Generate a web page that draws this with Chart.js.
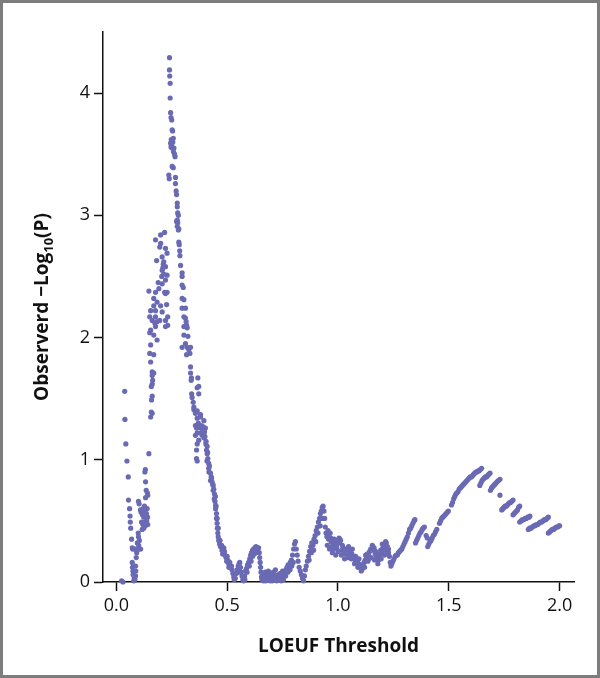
<!DOCTYPE html>
<html>
<head>
<meta charset="utf-8">
<script src="https://cdn.jsdelivr.net/npm/chart.js@4"></script>
<style>
  html, body { margin: 0; padding: 0; background: #fff; }
  #frame { width: 600px; height: 678px; box-sizing: border-box; border: 3px solid #7d7d7d; position: relative; }
  #wrap { width: 594px; height: 672px; }
</style>
</head>
<body>
<div id="frame"><div id="wrap"><canvas id="chart"></canvas></div></div>
<script>
// tick labels
var xTicks = [0, 0.5, 1.0, 1.5, 2.0];
var yTicks = [0, 1, 2, 3, 4];

var earlyX = [0.024,0.030,0.038,0.039,0.043,0.048,0.054,0.055,0.060,0.062,0.063,0.065,0.069,0.072,0.074,0.080,0.086,0.095,0.104,0.110,0.072,0.073,0.075,0.076,0.079,0.081,0.087,0.088,0.087,0.084,0.090,0.092,0.095,0.099,0.100,0.104,0.101];
var earlyY = [0.01,0.00,1.56,1.33,1.13,0.99,0.86,0.67,0.60,0.54,0.49,0.44,0.35,0.28,0.27,0.27,0.27,0.27,0.27,0.27,0.16,0.12,0.09,0.06,0.01,0.03,0.13,0.09,0.05,0.02,0.20,0.24,0.32,0.40,0.37,0.34,0.30];

var riseX = [0.100,0.103,0.109,0.112,0.114,0.117,0.120,0.124,0.124,0.126,0.130,0.130,0.127,0.132,0.135,0.139,0.141,0.142,0.140,0.142,0.132,0.129,0.131,0.147,0.155,0.158,0.162,0.159,0.162,0.158,0.162,0.164,0.162,0.169,0.162,0.155,0.151,0.169,0.155,0.184,0.169,0.118,0.121,0.136,0.137];
var riseY = [0.66,0.64,0.59,0.57,0.49,0.43,0.47,0.44,0.53,0.49,0.46,0.57,0.62,0.69,0.75,0.60,0.53,0.47,0.73,0.71,0.82,0.90,0.92,1.05,1.35,1.39,1.38,1.49,1.52,1.60,1.62,1.65,1.69,1.71,1.72,1.80,1.87,1.86,1.94,1.98,2.02,0.55,0.60,0.56,0.50];

var lobeX = [0.151,0.155,0.177,0.222,0.162,0.184,0.222,0.232,0.232,0.151,0.177,0.155,0.177,0.207,0.169,0.200,0.227,0.184,0.169,0.147,0.177,0.218,0.229,0.222,0.189,0.207,0.222,0.214,0.229,0.207,0.222,0.182,0.214,0.207,0.229,0.222,0.200,0.177,0.200,0.218,0.196,0.212,0.210,0.205,0.192,0.174,0.196];
var lobeY = [2.04,2.06,2.09,2.09,2.14,2.13,2.14,2.10,2.17,2.17,2.17,2.22,2.22,2.21,2.26,2.26,2.27,2.29,2.32,2.38,2.37,2.37,2.37,2.36,2.45,2.44,2.47,2.52,2.51,2.55,2.58,2.63,2.62,2.66,2.69,2.73,2.77,2.80,2.84,2.86,2.74,2.60,2.57,2.50,2.40,2.12,2.14];

var peakX = [0.240,0.240,0.241,0.243,0.243,0.245,0.247,0.250,0.252,0.254,0.257,0.245,0.250,0.252,0.260,0.263,0.265,0.252,0.257,0.237,0.239,0.267,0.267,0.270,0.272,0.275,0.275,0.277,0.280,0.275,0.277,0.275,0.280,0.272,0.282,0.282,0.284,0.286,0.287,0.290,0.297,0.297,0.297,0.302,0.297,0.305,0.297,0.312,0.305,0.312,0.315,0.317,0.305,0.320,0.305,0.323,0.312,0.297,0.320,0.335,0.327,0.317,0.332,0.335,0.335,0.338,0.339,0.368,0.372,0.365,0.372,0.340,0.342,0.347,0.350,0.350,0.357,0.365,0.365,0.380,0.380,0.395,0.248,0.255,0.258,0.247];
var peakY = [4.29,4.19,4.14,4.08,3.96,3.84,3.80,3.78,3.70,3.69,3.63,3.59,3.58,3.55,3.55,3.50,3.48,3.40,3.39,3.33,3.30,3.31,3.26,3.20,3.17,3.10,3.07,3.02,3.00,2.96,2.94,2.91,2.88,2.95,2.89,2.78,2.76,2.71,2.67,2.59,2.53,2.50,2.43,2.41,2.32,2.31,2.24,2.24,2.17,2.16,2.13,2.10,2.09,2.08,2.02,2.01,1.95,1.92,1.92,1.92,1.90,1.86,1.87,1.76,1.71,1.65,1.67,1.67,1.60,1.59,1.54,1.54,1.51,1.47,1.43,1.41,1.38,1.40,1.34,1.37,1.35,1.32,3.62,3.60,3.52,3.56];

var fallX = [0.357,0.362,0.380,0.402,0.357,0.365,0.387,0.395,0.372,0.365,0.410,0.362,0.410,0.362,0.365,0.385,0.390,0.395,0.400,0.405,0.407,0.413,0.417,0.417,0.418,0.425,0.428,0.425,0.432,0.437,0.440,0.437,0.443,0.447,0.445,0.448,0.448,0.452,0.452,0.455,0.456,0.458,0.460,0.462,0.466,0.470,0.477,0.480,0.485,0.485,0.490,0.495,0.500,0.503,0.507,0.512,0.515,0.520,0.522,0.526,0.530,0.532,0.370,0.375,0.383,0.392,0.398,0.404,0.412,0.409,
  0.420,0.430,0.435,0.442,0.450,0.455,0.460,0.468,0.475,0.488,0.498,0.508];
var fallY = [1.28,1.26,1.26,1.26,1.20,1.22,1.20,1.18,1.16,1.13,1.11,1.08,1.05,1.01,0.99,1.28,1.24,1.21,1.19,1.15,1.08,1.01,0.97,0.93,0.90,0.89,0.86,0.83,0.82,0.79,0.76,0.75,0.72,0.70,0.66,0.63,0.60,0.56,0.52,0.48,0.44,0.40,0.37,0.34,0.31,0.29,0.26,0.23,0.28,0.24,0.22,0.20,0.21,0.18,0.15,0.16,0.12,0.13,0.10,0.07,0.04,0.02,1.30,1.27,1.22,1.27,1.23,1.13,1.06,0.99,
  0.95,0.85,0.80,0.68,0.62,0.52,0.44,0.34,0.30,0.25,0.17,0.12];

var troughX = [0.537,0.541,0.545,0.550,0.554,0.557,0.560,0.563,0.567,0.571,0.575,0.579,0.583,0.587,0.592,0.597,0.602,0.606,0.610,0.615,0.620,0.625,0.630,0.636,0.642,0.645,0.647,0.649,0.651,0.653,0.655,0.657,0.548,0.556,0.580,0.590,0.600,0.608,0.615,0.622,0.630,0.638,
  0.662,0.667,0.672,0.676,0.681,0.686,0.690,0.695,0.700,0.705,0.709,0.714,0.718,0.722,0.727,0.731,0.736,0.740,0.745,0.750,0.755,0.760,0.765,0.770,0.775,0.780,0.785,0.790,0.795,0.800,0.804,0.808,0.812,0.816,0.820,0.825,0.830,0.835,0.840,0.845,0.849,0.853,0.857,0.862,0.867,0.872,0.877,0.882,0.887,0.892,0.897,0.902,0.907,0.912,0.917,0.921,0.925,0.929,0.933,0.937,
  0.664,0.674,0.684,0.694,0.704,0.713,0.724,0.734,0.744,0.754,0.764,0.774,0.784,0.792,0.798,0.870,0.880,0.890,0.900,0.910,0.920,0.928];
var troughY = [0.03,0.07,0.10,0.13,0.15,0.16,0.12,0.08,0.05,0.02,0.01,0.05,0.09,0.11,0.14,0.16,0.19,0.22,0.24,0.26,0.27,0.28,0.29,0.28,0.28,0.24,0.20,0.16,0.12,0.08,0.04,0.02,0.08,0.11,0.02,0.08,0.13,0.17,0.21,0.23,0.24,0.25,
  0.06,0.03,0.08,0.05,0.02,0.09,0.06,0.03,0.07,0.04,0.08,0.02,0.10,0.05,0.03,0.06,0.02,0.07,0.04,0.09,0.06,0.08,0.10,0.12,0.14,0.13,0.16,0.18,0.22,0.27,0.31,0.33,0.27,0.22,0.17,0.12,0.09,0.06,0.03,0.01,0.05,0.10,0.13,0.17,0.21,0.25,0.29,0.32,0.30,0.35,0.38,0.42,0.45,0.49,0.52,0.56,0.58,0.61,0.62,0.58,
  0.01,0.01,0.04,0.01,0.01,0.05,0.01,0.04,0.01,0.02,0.05,0.08,0.10,0.13,0.16,0.18,0.24,0.26,0.33,0.40,0.46,0.52];

var noisyX = [0.940,0.943,0.946,0.950,0.955,0.960,0.965,0.969,0.973,0.978,0.983,0.988,0.993,0.998,1.003,1.008,1.012,1.018,1.023,1.028,1.033,1.038,1.043,1.048,1.053,1.058,1.063,1.068,1.073,1.078,1.083,1.088,1.093,1.098,1.103,1.108,1.113,1.118,1.123,1.128,1.133,1.138,1.143,1.148,1.153,1.158,1.163,1.168,1.173,1.178,1.183,1.188,1.193,1.198,1.203,1.208,1.213,1.218,1.223,1.228,1.232,1.236,1.239,
  0.952,0.962,0.975,0.990,1.000,1.015,1.030,1.045,1.060,1.075,1.090,1.105,1.120,1.135,1.150,1.165,1.180,1.195,1.210,1.220,
  0.958,0.968,0.980,0.995,1.005,1.020,1.035,1.050,1.065,1.080,1.095,1.110,1.125,1.140,1.155,1.170,1.185,1.200,1.215,1.228,
  1.243,1.248,1.253,1.258,1.263,1.268,1.273,1.278,1.283,1.288,1.293,1.298,1.303,1.308,1.313,1.318,1.323,1.328,1.333,1.338,1.343,1.347];
var noisyY = [0.52,0.45,0.40,0.37,0.42,0.39,0.40,0.33,0.29,0.31,0.35,0.34,0.30,0.33,0.32,0.35,0.34,0.26,0.28,0.25,0.23,0.26,0.27,0.29,0.25,0.24,0.23,0.21,0.20,0.18,0.17,0.16,0.15,0.13,0.12,0.10,0.14,0.16,0.18,0.21,0.23,0.22,0.25,0.27,0.26,0.29,0.28,0.23,0.21,0.20,0.18,0.22,0.26,0.24,0.28,0.30,0.27,0.32,0.29,0.24,0.21,0.16,0.13,
  0.30,0.27,0.24,0.22,0.25,0.22,0.19,0.20,0.19,0.15,0.12,0.09,0.12,0.17,0.20,0.18,0.15,0.19,0.22,0.25,
  0.35,0.36,0.27,0.28,0.36,0.30,0.27,0.22,0.27,0.21,0.19,0.14,0.22,0.19,0.30,0.25,0.23,0.31,0.33,0.27,
  0.15,0.17,0.19,0.21,0.22,0.22,0.24,0.25,0.26,0.27,0.29,0.31,0.33,0.35,0.37,0.40,0.43,0.44,0.46,0.48,0.50,0.51];

var tailX = [1.350,1.355,1.360,1.365,1.370,1.375,1.380,1.385,1.390,1.398,1.403,
  1.405,1.410,1.415,1.420,1.425,1.430,1.435,1.440,1.446,
  1.458,1.463,1.468,1.473,1.478,1.483,1.488,1.493,1.498,
  1.512,1.517,1.522,1.527,1.532,1.537,1.542,1.547,1.552,1.557,1.562,1.567,1.572,1.577,1.582,1.587,1.592,1.597,1.602,1.607,1.612,1.617,1.622,1.627,1.632,1.637,1.642,1.648,
  1.640,1.645,1.650,1.655,1.660,1.665,1.670,1.675,1.680,1.686,
  1.688,1.693,1.698,1.703,1.708,1.713,1.718,1.724,1.731,1.731,
  1.739,1.744,1.749,1.754,1.759,1.764,1.769,1.774,1.779,1.784,1.790,
  1.790,1.795,1.800,1.805,1.810,1.815,1.820,
  1.820,1.826,1.832,1.838,1.844,1.850,1.856,1.862,1.866,
  1.859,1.865,1.871,1.877,1.883,1.889,1.895,1.901,1.907,1.913,1.919,1.925,1.931,1.937,1.943,1.949,
  1.949,1.955,1.961,1.967,1.973,1.979,1.985,1.991,1.997,2.000];
var tailY = [0.32,0.34,0.36,0.38,0.40,0.41,0.43,0.44,0.45,0.38,0.36,
  0.29,0.31,0.33,0.34,0.36,0.38,0.39,0.41,0.43,
  0.48,0.50,0.52,0.53,0.54,0.55,0.56,0.57,0.58,
  0.63,0.65,0.68,0.70,0.72,0.73,0.74,0.76,0.77,0.78,0.79,0.80,0.81,0.82,0.83,0.84,0.85,0.86,0.86,0.87,0.88,0.89,0.90,0.90,0.91,0.91,0.92,0.93,
  0.79,0.81,0.83,0.84,0.85,0.86,0.86,0.87,0.88,0.89,
  0.75,0.77,0.78,0.79,0.80,0.81,0.82,0.83,0.84,0.71,
  0.59,0.60,0.61,0.62,0.62,0.63,0.64,0.65,0.65,0.66,0.67,
  0.55,0.56,0.57,0.58,0.59,0.61,0.62,
  0.49,0.50,0.51,0.51,0.52,0.52,0.53,0.53,0.54,
  0.43,0.44,0.44,0.45,0.46,0.46,0.47,0.47,0.48,0.49,0.49,0.50,0.51,0.51,0.52,0.53,
  0.40,0.41,0.42,0.43,0.43,0.44,0.45,0.45,0.46,0.46];

var allX = [].concat(earlyX, riseX, lobeX, peakX, fallX, troughX, noisyX, tailX);
var allY = [].concat(earlyY, riseY, lobeY, peakY, fallY, troughY, noisyY, tailY);
var points = allX.map(function(x, i) { return { x: x, y: allY[i] }; });

var FONT = '"Open Sans", "Noto Sans", sans-serif';
var dotColor = '#6a6ab4';

// y title has a subscript, so it is drawn by hand
var yTitlePlugin = {
  id: 'yTitle',
  afterDraw: function(chart) {
    var ctx = chart.ctx, area = chart.chartArea;
    var big = 'bold 19px ' + FONT, small = 'bold 13px ' + FONT;
    var a = 'Observerd \u2212Log', sub = '10', b = '(P)';
    ctx.save();
    ctx.font = big; var wa = ctx.measureText(a).width, wb = ctx.measureText(b).width;
    ctx.font = small; var ws = ctx.measureText(sub).width;
    var total = wa + ws + wb;
    ctx.translate(40, (area.top + area.bottom) / 2);
    ctx.rotate(-Math.PI / 2);
    ctx.fillStyle = '#111';
    ctx.textBaseline = 'middle';
    ctx.textAlign = 'left';
    var start = -total / 2;
    ctx.font = big; ctx.fillText(a, start, 0);
    ctx.font = small; ctx.fillText(sub, start + wa, 6);
    ctx.font = big; ctx.fillText(b, start + wa + ws, 0);
    ctx.restore();
  }
};

new Chart(document.getElementById('chart'), {
  type: 'scatter',
  data: {
    datasets: [{
      data: points,
      backgroundColor: dotColor,
      borderColor: dotColor,
      borderWidth: 0,
      pointRadius: 2.6,
      clip: false
    }]
  },
  options: {
    responsive: true,
    maintainAspectRatio: false,
    animation: false,
    layout: { padding: { top: 29, right: 23, left: 0, bottom: 0 } },
    plugins: { legend: { display: false }, tooltip: { enabled: false } },
    scales: {
      x: {
        type: 'linear', min: -0.06, max: 2.065,
        afterBuildTicks: function(s) { s.ticks = xTicks.map(function(v) { return { value: v }; }); },
        afterFit: function(s) { s.height = 93; },
        grid: { drawOnChartArea: false, drawTicks: true, tickLength: 9, tickWidth: 1.5, tickColor: '#111' },
        border: { display: true, color: '#111', width: 1.5 },
        ticks: { color: '#111', font: { family: FONT, size: 18 }, padding: 4, maxRotation: 0,
                 callback: function(v) { return v.toFixed(1); } },
        title: { display: true, text: 'LOEUF Threshold', color: '#111', font: { family: FONT, size: 19, weight: 'bold' }, padding: { top: 10, bottom: 17 } }
      },
      y: {
        type: 'linear', min: 0, max: 4.5,
        afterBuildTicks: function(s) { s.ticks = yTicks.map(function(v) { return { value: v }; }); },
        afterFit: function(s) { s.width = 100; },
        grid: { drawOnChartArea: false, drawTicks: true, tickLength: 9, tickWidth: 1.5, tickColor: '#111' },
        border: { display: true, color: '#111', width: 1.5 },
        ticks: { color: '#111', font: { family: FONT, size: 18 }, padding: 4,
                 callback: function(v) { return String(v); } },
        title: { display: false }
      }
    }
  },
  plugins: [yTitlePlugin]
});
</script>
</body>
</html>
